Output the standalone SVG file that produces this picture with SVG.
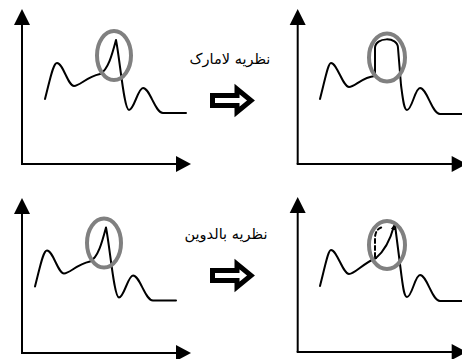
<svg xmlns="http://www.w3.org/2000/svg" width="462" height="359" viewBox="0 0 462 359">
<style>
.axis{stroke:#000;stroke-width:2;fill:none}
.ah{fill:#000}
.curve{stroke:#000;stroke-width:2;fill:none;stroke-linejoin:round;stroke-linecap:round}
.ring{stroke:#808080;stroke-width:4;fill:none}
.blk{stroke:#000;stroke-width:5;fill:#fff;stroke-linejoin:miter}
.lbl{font-family:"DejaVu Sans","Noto Sans",sans-serif;font-size:14.5px;fill:#000}
</style>
<defs>
<marker id="tip" viewBox="0 0 10 10" refX="8" refY="5" markerWidth="5" markerHeight="5" orient="auto" markerUnits="userSpaceOnUse">
<path d="M0,0 L10,5 L0,10 z" fill="#000"/>
</marker>
<g id="axes">
<line class="axis" x1="22" y1="22" x2="22" y2="164"/>
<line class="axis" x1="21" y1="164" x2="178" y2="164"/>
<polygon class="ah" points="22,9 14,25 30,25"/>
<polygon class="ah" points="191,164 176,156 176,172"/>
</g>
</defs>
<g id="panel-top-left">
<use href="#axes"/>
<path class="curve" d="M45,99 C50,80 53,63 57,63 C63,63 68,86 74,86 C80,86 86,77 100,74 C108,70 112,55 116,40 C120,60 124,110 129,110 C134,110 138,88 143,88 C150,88 155,113 163,113 L186,113"/>
<ellipse class="ring" cx="114" cy="55.5" rx="17" ry="24.5"/>
</g>
<g id="panel-top-right">
<use href="#axes" transform="translate(275.7,0)"/>
<path class="curve" d="M320,99 C325,80 328,63 331,63 C337,63 343,87 349,87 C355,87 362,77 375,76 L375,48 C375,37 398,36 398,48 L401,85 C403,100 404,110 407,110 C412,110 415,88 420,88 C427,88 432,114 440,114 L462,114"/>
<ellipse class="ring" cx="387" cy="57.5" rx="18" ry="24"/>
</g>
<g id="panel-bottom-left">
<use href="#axes" transform="translate(0,189)"/>
<g transform="translate(-10,187.5)">
<path class="curve" d="M45,99 C50,80 53,63 57,63 C63,63 68,86 74,86 C80,86 86,77 100,74 C108,70 112,55 116,40 C120,60 124,110 129,110 C134,110 138,88 143,88 C150,88 155,113 163,113 L186,113"/>
<ellipse class="ring" cx="114" cy="55.5" rx="17" ry="24.5"/>
</g>
</g>
<g id="panel-bottom-right">
<use href="#axes" transform="translate(275.7,188)"/>
<path class="curve" d="M320,286 C325,267 328,250 331,250 C337,250 343,274 349,274 C355,274 362,264 376,258"/>
<path class="curve" d="M376,258 Q388,248 394,226" marker-end="url(#tip)"/>
<path class="curve" stroke-dasharray="4,3" d="M375,257 L375,238 C375,231 379,227 384,227"/>
<path class="curve" d="M395,225 L401,272 C403,287 404,297 407,297 C412,297 415,275 420,275 C427,275 432,301 440,301 L462,301"/>
<ellipse class="ring" cx="387" cy="245" rx="18" ry="24"/>
</g>
<g id="arrow-lamarck">
<polygon class="blk" points="212.5,95.5 237,95.5 237,89 251,100.5 237,112 237,105.5 212.5,105.5"/>
<text class="lbl" x="230" y="64" text-anchor="middle" direction="rtl">نظریه لامارک</text>
</g>
<g id="arrow-baldwin">
<polygon class="blk" points="212.5,270.5 237,270.5 237,264 251,275.5 237,287 237,280.5 212.5,280.5"/>
<text class="lbl" x="226" y="239" text-anchor="middle" direction="rtl">نظریه بالدوین</text>
</g>
</svg>
